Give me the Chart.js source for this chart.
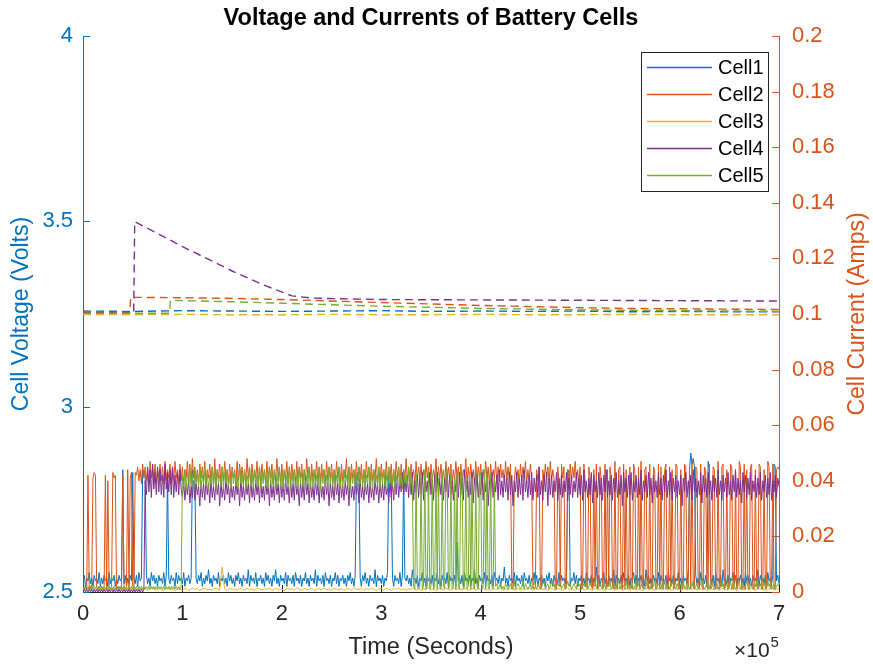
<!DOCTYPE html>
<html><head><meta charset="utf-8">
<script src="https://cdn.jsdelivr.net/npm/chart.js@4.4.1/dist/chart.umd.min.js"></script>
<style>html,body{margin:0;padding:0;background:#fff;overflow:hidden}canvas{display:block}</style>
</head><body>
<canvas id="c" width="873" height="664"></canvas>
<script>
// ---------- DATA ----------
const cellNames = ['Cell1', 'Cell2', 'Cell3', 'Cell4', 'Cell5'];
// seconds between current samples of each cell (sample j is at j*step seconds)
const currentSteps = [1250, 1250, 2500, 1250, 1250];

// Currents in mA
const current1 = [
3,6,2,5,4,7,3,5,2,6, 4,5,3,7,2,5,3,6,4,5, 2,7,3,5,4,6,2,5,3,6, 4,5,44,3,6,2,5,3,6,4,
43,5,3,6,2,7,4,5,44,43, 42,6,3,5,2,7,4,6,3,5, 2,6,4,5,3,7,2,6,43,5, 3,6,4,5,2,7,3,6,4,5,
3,7,2,5,4,6,3,5,44,43, 42,5,3,6,4,7,2,5,3,6, 4,8,3,5,2,6,4,5,3,7, 2,5,4,6,3,5,2,7,4,6,
3,5,2,6,4,7,3,5,2,6, 4,5,3,8,2,6,4,5,3,7, 2,5,4,6,3,5,2,7,4,6, 3,5,2,6,4,8,3,5,2,6,
4,5,3,7,2,6,4,5,3,6, 2,7,4,5,3,6,2,5,4,7, 3,5,2,6,4,5,3,8,2,6, 4,5,3,6,2,7,4,5,3,6,
2,5,4,7,3,6,2,5,4,6, 3,5,2,6,4,7,3,5,2,6, 42,43,42,5,2,6,4,7,3,5, 2,6,4,5,3,8,2,6,4,5,
3,6,2,5,4,7,42,41,42,5, 2,6,4,5,3,7,2,6,43,5, 4,6,3,5,2,8,4,5,3,6, 2,5,4,7,3,5,2,6,4,5,
3,6,2,5,4,7,3,5,2,6, 4,5,3,7,2,6,4,5,3,6, 2,18,4,5,3,6,2,7,4,5, 3,6,2,5,4,8,3,5,2,6,
4,5,3,7,2,6,4,5,3,6, 2,7,4,5,3,6,2,5,4,9, 3,5,2,6,4,5,3,7,2,6, 4,5,3,6,2,7,4,5,3,6,
2,5,4,7,3,6,2,5,4,6, 3,5,2,6,4,7,3,5,2,6, 4,5,3,7,2,6,4,5,3,6, 44,43,2,5,4,7,3,6,2,5,
4,6,3,5,2,7,4,5,3,6, 2,5,4,9,3,6,2,5,4,7, 3,5,2,6,4,5,3,8,2,6, 4,5,3,6,2,7,4,5,3,6,
2,5,4,7,3,6,2,5,4,6, 3,5,2,8,4,6,3,5,2,6, 4,5,3,7,2,6,4,5,3,6, 2,7,4,5,3,6,2,5,4,7,
3,5,2,6,4,5,3,8,44,50, 46,48,45,6,3,5,2,7,4,5, 3,6,2,47,44,5,3,6,2,7, 4,5,3,6,2,8,4,5,3,6,
2,5,4,7,3,6,2,5,4,6, 3,5,2,7,4,6,3,5,2,6, 4,5,3,8,2,6,4,5,3,6, 2,7,4,5,3,6,46,45,4,6,
3];
const current2 = [
2,1,2,1,42,1,2,1,41,43, 42,2,1,2,1,2,1,2,42,1, 40,2,1,2,43,41,42,1,2,1, 2,1,42,2,1,2,44,1,41,43,
2,1,43,42,45,40,44,39,46,41, 45,40,44,39,47,41,45,40,46,39, 44,41,46,40,45,39,47,40,44,41, 46,39,45,40,47,41,44,39,46,40,
45,39,44,41,47,40,46,39,48,41, 45,40,44,39,46,41,45,40,47,39, 44,41,46,40,45,39,48,40,44,41, 46,39,45,40,47,41,44,39,46,40,
45,41,44,39,47,40,46,41,45,39, 44,40,48,41,45,39,46,40,44,41, 47,39,45,40,46,41,44,39,47,40, 45,41,46,39,44,40,48,41,45,39,
46,40,44,41,47,39,45,40,46,41, 44,39,47,40,45,41,46,39,44,40, 48,41,45,39,46,40,44,41,47,39, 45,40,46,41,44,39,47,40,45,41,
46,39,44,40,47,41,45,39,46,40, 44,41,48,39,45,40,46,41,44,39, 47,40,45,41,46,39,44,40,47,41, 45,39,46,40,44,41,48,39,45,40,
46,41,44,39,47,40,45,41,46,39, 44,40,47,41,45,39,46,40,44,41, 48,39,45,40,46,41,44,39,47,40, 45,41,46,39,44,40,47,41,45,39,
46,40,44,41,48,39,45,40,46,41, 44,39,47,40,45,41,46,39,44,40, 47,41,45,39,46,40,44,41,48,39, 45,40,46,41,44,39,47,40,45,41,
46,39,44,40,47,41,45,39,46,40, 44,41,47,39,45,40,46,41,44,39, 47,40,45,41,46,2,1,40,45,41, 44,39,46,40,45,41,47,39,44,40,
46,41,2,1,2,44,40,45,2,1, 44,40,46,41,45,39,47,40,44,41, 2,1,45,40,2,46,41,45,1,2, 44,39,46,40,45,41,47,40,44,39,
45,2,1,46,40,2,1,45,41,2, 1,44,2,46,1,2,45,40,1,2, 46,1,44,2,45,41,2,1,47,2, 1,44,45,2,1,46,2,44,1,2,
45,2,1,46,44,1,2,45,1,47, 2,1,44,45,2,1,46,2,1,45, 44,1,2,46,1,45,2,1,44,46, 2,1,45,2,44,1,2,46,45,1,
2,44,1,2,46,45,1,2,44,1, 47,2,1,45,44,2,1,46,2,1, 45,44,2,1,46,1,2,45,44,1, 2,47,1,2,45,46,1,2,44,1,
2,46,45,1,2,44,1,2,47,45, 1,2,46,1,44,2,1,45,46,2, 1,44,2,1,46,45,2,1,44,1, 2,47,45,1,2,46,1,2,44,45,
44];
const current3 = [
1,0.6,1.2,0.8,1.5,0.5,1,1.3,0.7,1.1,0.5,1.4,0.9,1.2,0.6,1,1.5,0.8,1.1,0.7,
1.3,0.6,1,1.4,0.8,1.2,0.5,1.1,1.5,0.7,1,1.3,0.6,0.9,1.4,0.8,1.2,0.5,1.1,1,
0.7,1.3,1,0.6,1.5,0.9,1.2,0.5,1.1,1.4,0.8,1,0.6,1.3,1.2,0.7,9,1.1,0.5,1.4,
0.9,1.2,0.6,1.5,1,0.7,1.3,0.8,1.1,0.5,1.4,1,0.7,1.2,0.9,1.5,0.6,1.1,1.3,0.8,
1,0.5,1.4,0.9,1.2,0.7,1.5,1,0.6,1.3,0.8,1.1,1.4,0.5,1,1.2,0.7,1.5,0.9,1.1,
0.6,1.3,1,0.8,1.4,0.5,1.2,1.1,0.7,1.5,0.9,1,1.3,0.6,1.2,0.8,1.4,1,0.5,1.1,
1.2,0.7,1.4,1,0.6,1.3,0.9,1.5,0.8,1.1,0.5,1.2,1,1.4,0.7,1.3,0.6,1.1,0.9,1.5,
0.8,1.1,0.5,1.3,1.2,0.7,1.4,1,0.6,1.5,0.9,1.2,0.8,1.1,1.3,0.5,1,1.4,0.7,1.2,
1,1.4,0.7,1.1,0.5,1.3,0.9,1.2,1.5,0.6,1.1,0.8,1.4,1,0.7,1.3,0.5,1.2,0.9,1.1,
1.3,0.6,1.2,0.9,1.5,0.8,1,0.5,1.4,1.1,0.7,1.3,1,0.6,1.2,1.5,0.8,1.1,0.5,1.4,
0.9,1.2,0.7,1.4,1,0.6,1.3,1.1,0.8,1.5,0.5,1.2,0.9,1.3,0.7,1.1,1.4,0.6,1,1.2,
0.7,1.5,1,0.8,1.3,0.5,1.1,1.4,0.9,1.2,0.6,1,1.5,0.8,1.3,0.7,1.1,0.5,1.4,1,
1.1,0.8,1.3,0.6,1.2,1,1.5,0.7,1.4,0.9,1.1,0.5,1.3,1,0.8,1.2,0.6,1.4,1.1,0.7,
1.3,0.9,1.1,0.5,1.4,1,0.7,1.2,0.8,1.5,0.6,1.1,1.3,0.9,1,0.5,1.2,1.4,0.7,1.1,
1];
const current4 = [
0,1,0,1,0,1,0,1,0,1, 0,1,0,1,0,1,0,1,0,1, 0,1,0,1,0,1,0,1,0,1, 0,1,0,1,0,1,0,1,0,1,
0,1,0,1,0,1,0,1,0,1, 40,35,45,36,44,34,46,37,43,35, 45,36,44,35,42,34,46,37,43,36, 44,35,45,34,42,36,43,35,44,37,
34,40,33,39,35,41,32,38,34,40, 33,39,35,38,31,40,34,39,33,41, 35,39,32,40,34,38,33,41,35,39, 31,40,34,38,33,41,35,39,32,40,
34,38,33,40,35,39,31,41,34,38, 33,40,35,39,32,41,34,38,33,40, 35,39,32,41,34,38,33,40,35,39, 31,40,34,38,33,41,35,39,32,40,
34,39,33,41,35,38,32,40,34,39, 33,41,35,38,31,40,34,39,33,41, 35,39,32,40,34,38,33,41,35,39, 32,40,34,38,33,41,35,39,31,40,
34,38,33,40,35,39,32,41,34,38, 33,40,35,39,31,41,34,38,33,40, 35,39,32,41,34,38,33,40,35,39, 32,40,34,38,33,41,35,39,32,40,
34,39,33,41,35,38,32,40,34,39, 33,41,35,42,34,40,36,43,35,41, 36,42,34,41,35,43,33,40,36,42, 34,41,35,43,33,42,36,40,34,43,
35,41,33,42,36,43,34,40,35,42, 33,41,36,43,34,42,35,40,33,41, 36,42,34,43,35,41,33,44,36,40, 34,42,35,43,32,41,36,42,34,40,
35,43,33,41,36,42,31,40,35,43, 34,41,36,42,33,44,35,40,34,42, 36,41,33,43,35,42,31,40,36,43, 34,41,35,42,33,44,36,40,34,42,
35,43,33,41,36,42,34,45,35,40, 33,42,36,43,31,41,35,42,34,40, 36,43,33,41,35,42,34,40,36,43, 33,41,35,42,34,40,36,43,34,41,
35,42,33,44,36,40,34,41,35,43, 32,42,36,40,34,43,35,41,33,42, 36,44,34,40,35,42,33,41,36,43, 34,40,35,42,31,43,36,41,34,42,
35,43,33,40,36,42,34,41,35,44, 33,40,36,42,34,43,35,41,32,42, 36,40,34,43,35,41,33,42,36,44, 34,40,35,43,33,41,36,42,34,40,
35,42,31,41,36,43,34,40,35,42, 33,44,36,41,34,40,35,43,32,42, 36,41,34,43,35,40,33,42,36,41, 34,44,35,40,33,42,36,41,34,43,
35,40,33,42,36,44,34,41,35,40, 32,43,36,42,34,41,35,43,33,40, 36,42,34,41,35,43,33,40,36,42, 34,41,35,43,33,40,36,42,34,41,
38];
const current5 = [
1,2,1,2,1,2,1,2,1,2, 1,2,1,2,1,2,1,2,1,2, 1,2,1,2,1,2,1,2,1,2, 1,2,1,2,1,2,1,2,1,2,
1,2,1,2,1,2,1,2,1,2, 1,2,1,2,1,2,1,2,1,2, 1,2,1,2,1,2,1,2,1,2, 1,2,1,2,1,2,1,2,1,2,
42,38,44,37,43,39,45,38,42,37, 44,39,43,38,45,37,42,39,44,38, 43,37,42,39,45,38,43,37,44,39, 42,38,45,37,43,39,44,38,42,37,
44,39,43,38,42,37,45,39,43,38, 44,37,42,39,45,38,43,37,44,39, 42,38,45,37,43,39,44,38,42,37, 45,39,43,38,44,37,42,39,45,38,
43,37,44,39,42,38,45,37,43,39, 44,38,42,37,45,39,43,38,44,37, 42,39,45,38,43,37,44,39,42,38, 45,37,43,39,44,38,42,37,45,39,
43,38,44,37,42,39,45,38,43,37, 44,39,42,38,45,37,43,39,44,38, 42,37,45,39,43,38,44,37,42,39, 45,38,43,37,44,39,42,38,45,37,
43,39,44,38,42,37,45,39,43,38, 44,37,42,39,45,38,43,37,44,39, 42,38,45,37,43,39,2,1,43,2, 1,2,42,1,2,44,1,2,43,1,
2,42,1,2,44,1,41,2,1,43, 2,1,42,44,1,2,43,1,2,41, 1,42,2,1,44,43,1,2,42,1, 2,43,1,41,2,1,44,2,1,42,
43,1,2,44,1,42,2,1,43,2, 1,41,2,3,1,2,3,1,2,1, 3,2,1,2,3,1,2,4,1,2, 3,2,1,2,4,1,3,2,1,2,
3,1,2,4,2,1,3,2,1,2, 3,4,1,2,3,1,2,4,2,3, 1,2,3,2,4,1,2,3,1,2, 4,2,3,1,2,3,2,1,4,2,
3,1,2,3,2,4,1,2,3,2, 1,3,4,2,1,2,3,2,1,3, 2,1,3,2,4,1,2,3,1,2, 3,4,1,2,3,2,1,4,2,3,
1,2,3,1,2,4,2,3,1,2, 3,2,1,4,2,3,1,2,3,2, 4,1,2,3,2,1,3,2,4,1, 2,3,1,2,3,4,2,1,3,2,
1,3,2,4,1,2,3,2,1,3, 2,4,1,2,3,1,2,3,4,2, 1,2,3,2,1,4,3,2,1,2, 3,1,2,4,2,3,1,2,3,1,
2,4,1,3,2,1,2,3,4,1, 2,3,1,2,4,2,1,3,2,1, 3,2,4,1,2,3,1,2,3,2, 1,4,2,3,1,2,3,1,2,3,
2];

// Voltages (Volts) with their times (seconds)
const voltTime1 = [0,50000,100000,150000,200000,250000,300000,350000,400000,450000,500000,550000,600000,650000,700000];
const volt1     = [3.258,3.257,3.259,3.258,3.257,3.258,3.259,3.257,3.258,3.257,3.258,3.256,3.257,3.256,3.256];
const voltTime2 = [0,47000,48000,100000,150000,200000,250000,300000,350000,400000,450000,500000,550000,600000,650000,700000];
const volt2     = [3.255,3.254,3.295,3.294,3.292,3.289,3.285,3.281,3.277,3.273,3.270,3.267,3.265,3.264,3.263,3.262];
const voltTime3 = [0,50000,100000,150000,200000,250000,300000,350000,400000,450000,500000,550000,600000,650000,700000];
const volt3     = [3.249,3.248,3.249,3.248,3.248,3.249,3.248,3.248,3.249,3.248,3.248,3.249,3.248,3.248,3.248];
const voltTime4 = [0,51000,52000,100000,150000,180000,210000,230000,260000,300000,400000,500000,600000,700000];
const volt4     = [3.253,3.253,3.499,3.432,3.366,3.330,3.299,3.293,3.291,3.289,3.288,3.287,3.286,3.285];
const voltTime5 = [0,87000,88000,150000,200000,250000,300000,350000,400000,450000,500000,550000,600000,650000,700000];
const volt5     = [3.252,3.252,3.287,3.283,3.279,3.275,3.271,3.268,3.265,3.263,3.261,3.260,3.259,3.258,3.257];

const xTicks = [0,1,2,3,4,5,6,7];            // in units of 10^5 s
const voltTicks = [2.5,3,3.5,4];
const currTicks = [0,0.02,0.04,0.06,0.08,0.1,0.12,0.14,0.16,0.18,0.2];

// ---------- STYLE ----------
const FONT = "'Liberation Sans', Arial, Helvetica, sans-serif";
const colors = ['#0072BD','#D95319','#EDB120','#7E2F8E','#77AC30'];
const leftColor = '#0072BD', rightColor = '#D95319', axisDark = '#262626';

const currents = [current1,current2,current3,current4,current5];
const voltTimes = [voltTime1,voltTime2,voltTime3,voltTime4,voltTime5];
const volts = [volt1,volt2,volt3,volt4,volt5];

const datasets = [];
volts.forEach((v,k) => datasets.push({
  label: cellNames[k] + ' voltage',
  data: v.map((y,j) => ({x: voltTimes[k][j], y})),
  yAxisID: 'yV', borderColor: colors[k], borderWidth: 1.4, borderDash: [8,5],
  pointRadius: 0, fill: false, order: 10 - k
}));
currents.forEach((c,k) => datasets.push({
  label: cellNames[k],
  data: c.map((v,j) => ({x: j * currentSteps[k], y: v / 1000})),
  yAxisID: 'yI', borderColor: colors[k], borderWidth: 1,
  pointRadius: 0, fill: false, order: 5 - k
}));

const decor = {
  id: 'decor',
  beforeDatasetsDraw(chart) {
    const {ctx, chartArea: a, scales} = chart;
    ctx.save();
    ctx.lineWidth = 1;
    ctx.strokeStyle = leftColor;
    voltTicks.forEach(v => {
      const y = Math.round(scales.yV.getPixelForValue(v)) + 0.5;
      ctx.beginPath(); ctx.moveTo(a.left, y); ctx.lineTo(a.left + 7, y); ctx.stroke();
    });
    ctx.strokeStyle = rightColor;
    currTicks.forEach(v => {
      const y = Math.round(scales.yI.getPixelForValue(v)) + 0.5;
      ctx.beginPath(); ctx.moveTo(a.right, y); ctx.lineTo(a.right - 7, y); ctx.stroke();
    });
    ctx.strokeStyle = axisDark;
    xTicks.forEach(v => {
      const x = Math.round(scales.x.getPixelForValue(v * 1e5)) + 0.5;
      ctx.beginPath(); ctx.moveTo(x, a.bottom); ctx.lineTo(x, a.bottom - 7); ctx.stroke();
    });
    ctx.restore();
  },
  afterDraw(chart) {
    const {ctx, chartArea: a} = chart;
    ctx.save();
    // title
    ctx.fillStyle = '#000';
    ctx.font = 'bold 23.5px ' + FONT;
    ctx.textAlign = 'center'; ctx.textBaseline = 'alphabetic';
    ctx.fillText('Voltage and Currents of Battery Cells', (a.left + a.right) / 2, 25);
    // right axis title (reads bottom to top)
    ctx.save();
    ctx.translate(858, (a.top + a.bottom) / 2);
    ctx.rotate(-Math.PI / 2);
    ctx.fillStyle = rightColor;
    ctx.font = '23px ' + FONT;
    ctx.textAlign = 'center'; ctx.textBaseline = 'middle';
    ctx.fillText('Cell Current (Amps)', 0, 0);
    ctx.restore();
    // x exponent
    ctx.fillStyle = axisDark;
    ctx.textAlign = 'left'; ctx.textBaseline = 'alphabetic';
    ctx.font = '21px ' + FONT;
    ctx.fillText('\u00d710', 734, 657);
    const w = ctx.measureText('\u00d710').width;
    ctx.font = '15px ' + FONT;
    ctx.fillText('5', 734 + w + 1, 647);
    // legend
    const bx = 641.5, by = 52.5, bw = 127, bh = 139;
    ctx.fillStyle = '#fff';
    ctx.fillRect(bx, by, bw, bh);
    ctx.strokeStyle = axisDark; ctx.lineWidth = 1;
    ctx.strokeRect(bx, by, bw, bh);
    ctx.font = '20px ' + FONT;
    ctx.textBaseline = 'middle';
    cellNames.forEach((n, k) => {
      const y = 67.5 + k * 27;
      ctx.strokeStyle = colors[k];
      ctx.lineWidth = 1.3;
      ctx.beginPath(); ctx.moveTo(647, y); ctx.lineTo(712, y); ctx.stroke();
      ctx.fillStyle = '#000';
      ctx.fillText(n, 718, y + 1);
    });
    ctx.restore();
  }
};

new Chart(document.getElementById('c'), {
  type: 'line',
  data: { datasets },
  options: {
    responsive: false, animation: false, devicePixelRatio: 1,
    layout: { padding: { top: 36, left: 0, right: 0, bottom: 0 } },
    plugins: { legend: { display: false }, title: { display: false }, tooltip: { enabled: false } },
    elements: { line: { tension: 0 } },
    scales: {
      x: {
        type: 'linear', position: 'bottom', min: 0, max: 700000,
        afterFit(s) { s.height = 72; },
        afterBuildTicks(s) { s.ticks = xTicks.map(v => ({ value: v * 1e5 })); },
        ticks: { callback: v => String(Math.round(v / 1e5)), color: axisDark, font: { family: FONT, size: 22 }, padding: 9, maxRotation: 0, autoSkip: false },
        grid: { display: false, drawTicks: false },
        border: { display: true, color: axisDark, width: 1 },
        title: { display: true, text: 'Time (Seconds)', color: axisDark, font: { family: FONT, size: 23.5 }, padding: { top: 0, bottom: 2 } }
      },
      yV: {
        type: 'linear', position: 'left', min: 2.5, max: 4,
        afterFit(s) { s.width = 83; },
        afterBuildTicks(s) { s.ticks = voltTicks.map(v => ({ value: v })); },
        ticks: { callback: v => String(v), color: leftColor, font: { family: FONT, size: 22 }, padding: 10 },
        grid: { display: false, drawTicks: false },
        border: { display: true, color: leftColor, width: 1 },
        title: { display: true, text: 'Cell Voltage (Volts)', color: leftColor, font: { family: FONT, size: 23 }, padding: { top: 8, bottom: 0 } }
      },
      yI: {
        type: 'linear', position: 'right', min: 0, max: 0.2,
        afterFit(s) { s.width = 94; },
        afterBuildTicks(s) { s.ticks = currTicks.map(v => ({ value: v })); },
        ticks: { callback: v => String(Math.round(v * 100) / 100), color: rightColor, font: { family: FONT, size: 22 }, padding: 13 },
        grid: { display: false, drawTicks: false },
        border: { display: true, color: rightColor, width: 1 }
      }
    }
  },
  plugins: [decor]
});
</script>
</body></html>
